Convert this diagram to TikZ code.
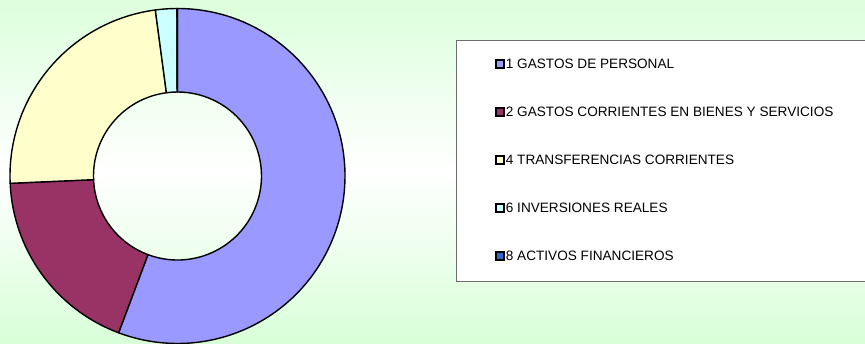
\documentclass[tikz,border=0pt]{standalone}
\usepackage{fontspec}
\setmainfont{Liberation Sans}
\usetikzlibrary{positioning}

\definecolor{bgtop}{HTML}{DCFFDC}
\definecolor{bgbot}{HTML}{D8FFD8}
\definecolor{c_personal}{HTML}{9999FF}
\definecolor{c_corrientes}{HTML}{993366}
\definecolor{c_transfer}{HTML}{FFFFCC}
\definecolor{c_inversion}{HTML}{CCFFFF}
\definecolor{c_activos}{HTML}{3366CC}

\tikzset{
  slice/.style={draw=black, line width=1.4pt, line join=round},
  key/.style={draw=black, line width=1.9pt, minimum size=7.5pt, inner sep=0pt},
  keytext/.style={inner sep=1pt, font=\fontsize{13.6}{15}\selectfont},
}

\begin{document}
\begin{tikzpicture}[x=1pt, y=1pt]
%% background
\shade[top color=bgtop, bottom color=bgbot, middle color=white] (0,0) rectangle (865,343);
\useasboundingbox (0,0) rectangle (865,343);

%% DONUT
\coordinate (ctr) at (177.5,167);
\begin{scope}[shift={(ctr)}]
\path[slice, fill=c_personal]   (90:167.5) arc (90:-110.6:167.5) -- (-110.6:84) arc (-110.6:90:84) -- cycle;
\path[slice, fill=c_corrientes] (-110.6:167.5) arc (-110.6:-177.5:167.5) -- (-177.5:84) arc (-177.5:-110.6:84) -- cycle;
\path[slice, fill=c_transfer]   (182.5:167.5) arc (182.5:97.6:167.5) -- (97.6:84) arc (97.6:182.5:84) -- cycle;
\path[slice, fill=c_inversion]  (97.6:167.5) arc (97.6:90.2:167.5) -- (90.2:84) arc (90.2:97.6:84) -- cycle;
\path[slice, fill=c_activos]    (90.2:167.5) arc (90.2:90:167.5) -- (90:84) arc (90:90.2:84) -- cycle;
\end{scope}

%% LEGEND
\node[draw=gray!85!black, fill=white, line width=1.2pt, minimum width=412pt, minimum height=241pt,
      anchor=north west, inner sep=0pt](legend) at (456,303) {};

\node[key, fill=c_personal] (key_personal) at (500,279) {};
\node[key, fill=c_corrientes, below=38.6pt of key_personal] (key_corrientes) {};
\node[key, fill=c_transfer, below=38.6pt of key_corrientes] (key_transfer) {};
\node[key, fill=c_inversion, below=38.6pt of key_transfer] (key_inversion) {};
\node[key, fill=c_activos, below=38.6pt of key_inversion] (key_activos) {};

\node[keytext, right=0pt of key_personal] (lbl_personal) {1 GASTOS DE PERSONAL};
\node[keytext, right=0pt of key_corrientes] (lbl_corrientes) {2 GASTOS CORRIENTES EN BIENES Y SERVICIOS};
\node[keytext, right=0pt of key_transfer] (lbl_transfer) {4 TRANSFERENCIAS CORRIENTES};
\node[keytext, right=0pt of key_inversion] (lbl_inversion) {6 INVERSIONES REALES};
\node[keytext, right=0pt of key_activos] (lbl_activos) {8 ACTIVOS FINANCIEROS};

\end{tikzpicture}
\end{document}
